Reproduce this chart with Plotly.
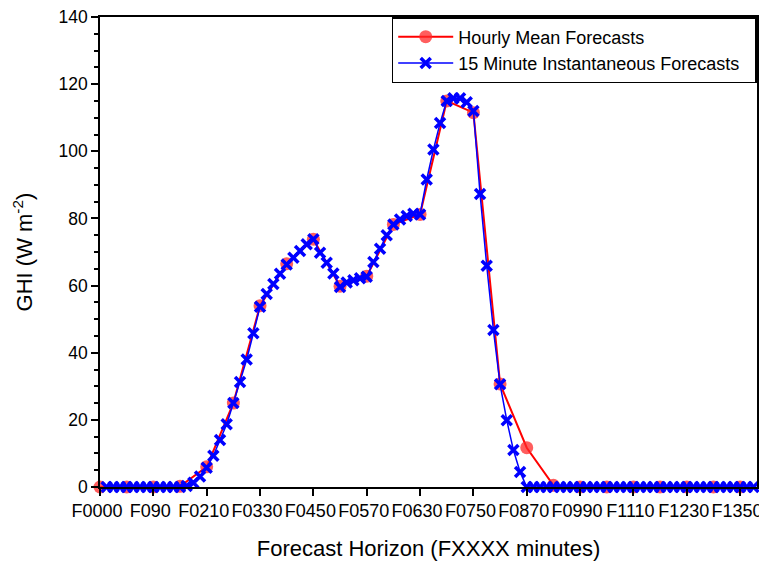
import plotly.graph_objects as go

# Forecast horizon in minutes
hourly_minutes = list(range(0, 1441, 60))
quarter_minutes = list(range(15, 1471, 15))

hourly_ghi = [0, 0, 0, 0.2, 6, 25, 54, 66.5, 73.8, 59.8, 62.8, 78.2, 81.2,
              115, 111.5, 30.7, 11.7, 0.5, 0, 0, 0, 0, 0, 0, 0]

quarter_ghi = [
    0, 0, 0, 0, 0, 0, 0, 0, 0, 0, 0, 0,            # 1-12
    0.3, 1.3, 3.1, 5.7, 9.3, 14, 18.7, 25, 31.3, 38, 45.8, 53.7,   # 13-24
    57.5, 60.5, 63.5, 66.3, 68.3, 70.3, 72.3, 73.8,  # 25-32
    69.8, 66.8, 63.6, 59.6, 60.9, 61.6, 62.2, 62.6,  # 33-40
    67, 71, 75, 78.2, 79.7, 80.7, 81.4, 81.2,        # 41-48
    91.6, 100.5, 108.4, 115, 115.8, 115.8, 114.6, 112,  # 49-56
    87.3, 65.9, 46.8, 30.6, 19.9, 11, 4.5, 0,        # 57-64
    0, 0, 0, 0, 0, 0, 0, 0, 0, 0, 0, 0, 0, 0, 0, 0, 0,  # 65-81
    0, 0, 0, 0, 0, 0, 0, 0, 0, 0, 0, 0, 0, 0, 0, 0, 0,  # 82-98
]

tick_vals = list(range(0, 1441, 120))
tick_text = ["F0000", "F090", "F0210", "F0330", "F0450", "F0570", "F0630",
             "F0750", "F0870", "F0990", "F1110", "F1230", "F1350"]

font = "Liberation Sans, Arial, sans-serif"

fig = go.Figure()
fig.add_trace(go.Scatter(
    x=hourly_minutes, y=hourly_ghi, mode="lines+markers",
    name="Hourly Mean Forecasts",
    line=dict(color="#FF0000", width=2),
    marker=dict(symbol="circle", size=13, color="rgba(255,40,40,0.75)", line=dict(width=0)),
    cliponaxis=False,
))
fig.add_trace(go.Scatter(
    x=quarter_minutes, y=quarter_ghi, mode="lines+markers",
    name="15 Minute Instantaneous Forecasts\u00a0\u00a0",
    line=dict(color="#0000FF", width=1.5),
    marker=dict(symbol="x-thin", size=10, color="#0000FF", line=dict(width=3.5, color="#0000FF")),
    cliponaxis=False,
))

# the page body adds an 8px offset, so the figure is a bit smaller than the window
fig.update_layout(
    width=759, height=559,
    margin=dict(l=92, r=10, t=9, b=80),
    plot_bgcolor="white", paper_bgcolor="white",
    font=dict(family=font, size=18, color="black"),
    showlegend=True,
    legend=dict(
        x=0.444, y=1.0, xanchor="left", yanchor="top",
        bgcolor="white", bordercolor="black", borderwidth=1.5,
        font=dict(family=font, size=18),
        itemwidth=55,
    ),
    xaxis=dict(
        range=[0, 1478], tickmode="array", tickvals=tick_vals, ticktext=tick_text,
        tickangle=0, ticklabeloverflow="allow", ticklabelshift=-3,
        ticks="outside", ticklen=7, tickwidth=1.5, tickcolor="black",
        showline=True, linecolor="black", linewidth=1.5, mirror=True,
        showgrid=False, zeroline=False, automargin=False,
        title=dict(text="Forecast Horizon (FXXXX minutes)", font=dict(size=22), standoff=20),
        tickfont=dict(size=18),
    ),
    yaxis=dict(
        range=[0, 140], tickmode="array", tickvals=list(range(0, 141, 20)),
        ticklabeloverflow="allow",
        ticks="outside", ticklen=7, tickwidth=1.5, tickcolor="black",
        minor=dict(ticks="outside", ticklen=4, tickwidth=1.5, tickcolor="black", dtick=5),
        showline=True, linecolor="black", linewidth=1.5, mirror=True,
        showgrid=False, zeroline=False, automargin=False,
        title=dict(text="GHI (W m<sup>-2</sup>)", font=dict(size=22), standoff=20),
        tickfont=dict(size=17.5),
    ),
)

fig.write_html("out.html")
